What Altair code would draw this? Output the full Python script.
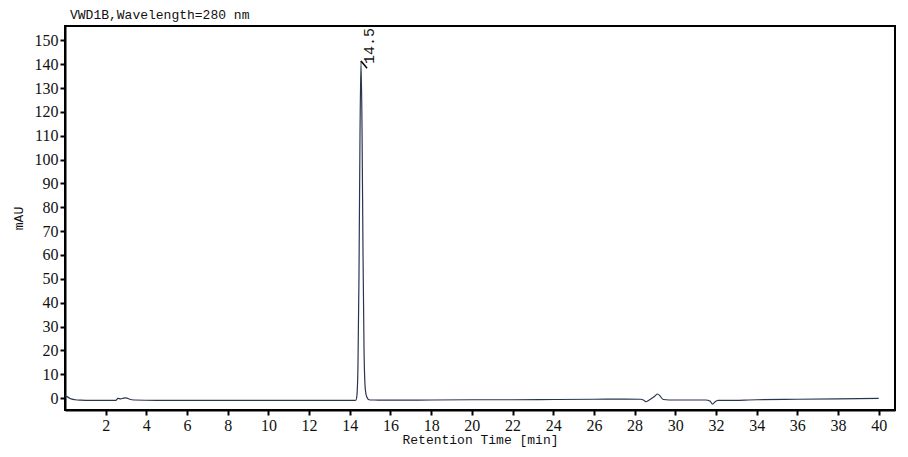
import altair as alt
import pandas as pd

# Chromatogram trace (retention time in min, signal in mAU)
time_min = [0.0, 0.1, 0.25, 0.5, 0.8, 1.2, 2.0, 2.5, 2.6, 2.75,
            2.85, 3.0, 3.15, 3.4, 4.5, 6.0, 8.0, 10.0, 12.0, 13.5,
            14.2, 14.30, 14.35, 14.40, 14.45, 14.50, 14.55, 14.60, 14.65, 14.70,
            14.75, 14.80, 14.85, 14.90, 15.0, 15.2, 15.6, 16.5, 18.0, 20.0,
            22.0, 24.0, 26.0, 27.5, 28.3, 28.45, 28.55, 28.7, 28.85, 29.0,
            29.13, 29.25, 29.4, 29.7, 30.5, 31.5, 31.7, 31.83, 31.95, 32.1,
            32.5, 34.0, 36.0, 38.0, 40.0]
signal_mau = [1.0, 0.6, -0.2, -0.7, -0.9, -1.0, -1.0, -1.0, -0.1, -0.3,
              -0.1, 0.1, -0.4, -0.8, -1.0, -1.0, -1.0, -1.0, -1.0, -1.0,
              -1.0, -0.9, 1.2, 13.0, 50.0, 109.0, 141.3, 114.0, 60.0, 20.0,
              5.0, 1.5, 0.2, -0.5, -0.8, -0.8, -0.9, -0.9, -0.8, -0.7,
              -0.7, -0.6, -0.5, -0.4, -0.5, -0.9, -1.5, -0.9, -0.1, 0.9,
              1.7, 0.9, -0.6, -0.8, -0.8, -0.8, -1.2, -2.5, -1.6, -1.0,
              -1.0, -0.7, -0.5, -0.3, -0.1]

# Peak annotation
peak_time = [14.55]
peak_height = [141.3]
peak_marker_end_time = [14.85]
peak_marker_end_height = [138.3]
peak_label = ["14.5"]

# Axis ticks
x_ticks = list(range(2, 41, 2))
y_ticks = list(range(0, 151, 10))

trace = pd.DataFrame({"t": time_min, "v": signal_mau})
peaks = pd.DataFrame({"t": peak_time, "v": peak_height,
                      "t2": peak_marker_end_time, "v2": peak_marker_end_height,
                      "label": peak_label})

x_scale = alt.Scale(domain=[0, 40.8], nice=False, zero=False)
y_scale = alt.Scale(domain=[-5, 156], nice=False, zero=False)

x_axis = alt.Axis(title="Retention Time [min]", values=x_ticks, grid=False,
                  labelFont="Liberation Serif", labelFontSize=16, labelColor="#111",
                  labelPadding=2, tickSize=5, tickWidth=2, tickColor="#000",
                  domainColor="#000", domainWidth=2, labelOverlap=False,
                  titleFont="Liberation Mono", titleFontSize=13, titleFontWeight="normal",
                  titleColor="#111", titlePadding=0, labelFlush=False)
y_axis = alt.Axis(title="mAU", values=y_ticks, grid=False,
                  labelFont="Liberation Serif", labelFontSize=16, labelColor="#111",
                  labelPadding=2, tickSize=5, tickWidth=2, tickColor="#000",
                  domainColor="#000", domainWidth=2, labelOverlap=False,
                  titleFont="Liberation Mono", titleFontSize=13, titleFontWeight="normal",
                  titleColor="#111", titlePadding=9)

line = alt.Chart(trace).mark_line(color="#2a3550", strokeWidth=1.2, clip=True,
                                  interpolate="monotone").encode(
    x=alt.X("t:Q", scale=x_scale, axis=x_axis),
    y=alt.Y("v:Q", scale=y_scale, axis=y_axis),
)

marker = alt.Chart(peaks).mark_rule(color="#000", strokeWidth=1.5).encode(
    x=alt.X("t:Q", scale=x_scale, axis=x_axis),
    y=alt.Y("v:Q", scale=y_scale, axis=y_axis),
    x2="t2:Q", y2="v2:Q",
)

label = alt.Chart(peaks).mark_text(angle=270, align="left", baseline="middle",
                                   font="Liberation Mono", fontSize=15,
                                   color="#111", dx=-3, dy=8).encode(
    x=alt.X("t:Q", scale=x_scale, axis=x_axis),
    y=alt.Y("v:Q", scale=y_scale, axis=y_axis),
    text="label:N",
)

chart = alt.layer(line, marker, label).properties(
    width=830, height=384, background="white",
    title=alt.TitleParams("VWD1B,Wavelength=280 nm", anchor="start", frame="group",
                          font="Liberation Mono", fontSize=13, fontWeight="normal",
                          color="#111", offset=4, dx=5),
    autosize=alt.AutoSizeParams(type="none"),
    padding={"left": 57, "top": 18, "right": 5, "bottom": 39},
).configure_view(stroke="#000", strokeWidth=2)

chart.save("out.html", embed_options={"renderer": "svg", "actions": False})
